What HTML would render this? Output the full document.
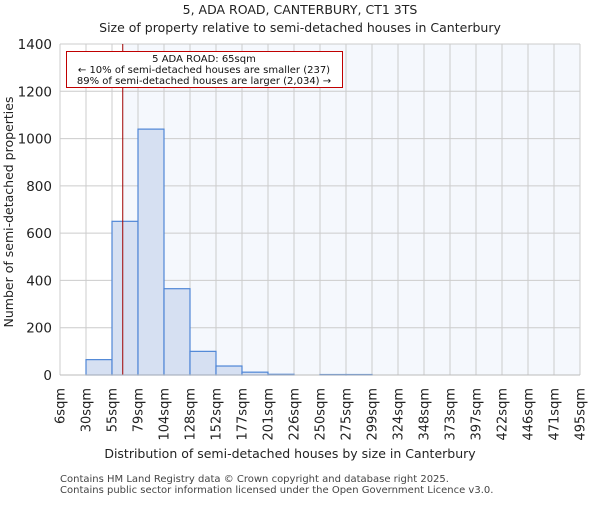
<!DOCTYPE html>
<html><head><meta charset="utf-8"><style>
body{margin:0;background:#fff;}
svg{font-family:"DejaVu Sans","Liberation Sans",sans-serif;}
</style></head><body>
<svg id="c" width="600" height="500" xmlns="http://www.w3.org/2000/svg">
<text x="300" y="14" text-anchor="middle" font-size="12.5" fill="#222">5, ADA ROAD, CANTERBURY, CT1 3TS</text>
<text x="300" y="32" text-anchor="middle" font-size="12.5" fill="#222">Size of property relative to semi-detached houses in Canterbury</text>
<g id="plot"></g>
<text x="290" y="458" text-anchor="middle" font-size="12.5" fill="#222">Distribution of semi-detached houses by size in Canterbury</text>
<text transform="translate(13,212) rotate(-90)" text-anchor="middle" font-size="12.5" fill="#222">Number of semi-detached properties</text>
<text x="60" y="482" font-size="10" fill="#444">Contains HM Land Registry data © Crown copyright and database right 2025.</text>
<text x="60" y="493" font-size="10" fill="#444">Contains public sector information licensed under the Open Government Licence v3.0.</text>
</svg>
<script>
const binEdges=[6,30,55,79,104,128,152,177,201,226,250,275,299,324,348,373,397,422,446,471,495];
const tickLabels=["6sqm","30sqm","55sqm","79sqm","104sqm","128sqm","152sqm","177sqm","201sqm","226sqm","250sqm","275sqm","299sqm","324sqm","348sqm","373sqm","397sqm","422sqm","446sqm","471sqm","495sqm"];
const counts=[0,65,650,1040,365,100,38,12,3,0,2,2,0,0,0,0,0,0,0,0];
const yTicks=[0,200,400,600,800,1000,1200,1400];
const markerValue=65;
const NS="http://www.w3.org/2000/svg";
const X0=60,X1=580,Y0=375,Y1=44,nb=counts.length;
const xi=i=>X0+i*(X1-X0)/nb;
const xv=v=>X0+(v-binEdges[0])/(binEdges[binEdges.length-1]-binEdges[0])*(X1-X0);
const y=v=>Y0-v/1400*(Y0-Y1);
const g=document.getElementById('plot');
function mk(t,a){const e=document.createElementNS(NS,t);for(const k in a)e.setAttribute(k,a[k]);g.appendChild(e);return e;}
let e=mk('rect',{x:xv(markerValue),y:Y1,width:X1-xv(markerValue),height:Y0-Y1,fill:'#f5f8fd'});


for(let i=0;i<=nb;i++){const l=mk('line',{x1:xi(i),x2:xi(i),y1:Y1,y2:Y0,stroke:'#ccc'});

}
yTicks.forEach(t=>{const l=mk('line',{x1:X0,x2:X1,y1:y(t),y2:y(t),stroke:'#ccc'});


const tx=mk('text',{x:X0-8,y:y(t)+5,'text-anchor':'end','font-size':13.5,fill:'#222'});tx.textContent=t;

});
counts.forEach((c,i)=>{if(c<=0)return;const b=mk('rect',{x:xi(i),y:y(c),width:xi(i+1)-xi(i),height:Y0-y(c),fill:'#d6e0f2',stroke:'#4f86d6','stroke-width':1.2});

});
tickLabels.forEach((t,i)=>{const tx=mk('text',{transform:`translate(${xi(i)+4.5},${Y0+13}) rotate(-90)`,'text-anchor':'end','font-size':13,fill:'#222'});tx.textContent=t;

});
const ml=mk('line',{x1:xv(markerValue),x2:xv(markerValue),y1:Y1,y2:Y0,stroke:'#a00000','stroke-width':1});


const ax=mk('line',{x1:X0,x2:X1,y1:Y0,y2:Y0,stroke:'#bbb'});


const box=mk('rect',{x:66.5,y:51.5,width:276,height:36,fill:'#fff',stroke:'#c00000'});


["5 ADA ROAD: 65sqm","← 10% of semi-detached houses are smaller (237)","89% of semi-detached houses are larger (2,034) →"].forEach((s,i)=>{const tx=mk('text',{x:204,y:62+i*11,'text-anchor':'middle','font-size':10,fill:'#111'});tx.textContent=s;

});
</script>
</body></html>
